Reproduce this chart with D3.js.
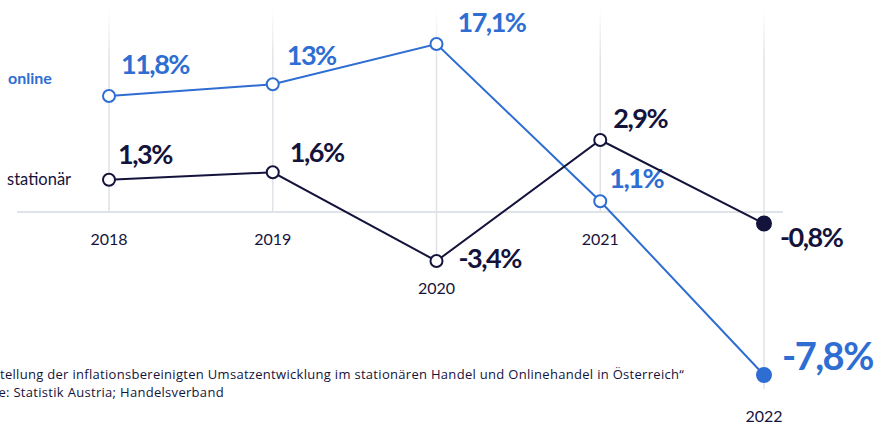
<!DOCTYPE html>
<html>
<head>
<meta charset="utf-8">
<script src="https://cdn.jsdelivr.net/npm/d3@7"></script>
<style>
  body { margin: 0; background: #fff; }
  svg { display: block; }
</style>
</head>
<body>
<div id="chart"></div>
<script>
// ------------------------------------------------------------
// Umsatzentwicklung online vs. stationär, 2018–2022 (in %)
// ------------------------------------------------------------

const years = ['2018', '2019', '2020', '2021', '2022'];
const onlineValues = [11.8, 13, 17.1, 1.1, -7.8];
const stationaerValues = [1.3, 1.6, -3.4, 2.9, -0.8];
const seriesNames = ['online', 'stationär'];
const sourceLines = [
  '„Darstellung der inflationsbereinigten Umsatzentwicklung im stationären Handel und Onlinehandel in Österreich“',
  'Quelle: Statistik Austria; Handelsverband'
];

const W = 882, H = 424;
const blue = '#2e6dd2';
const navy = '#14133b';
const grid = '#dfe2e7';
const baseY = 212;

// label placement next to each point (dx, dy)
const onlineLabelOffsets = [[12, -22], [14, -19], [21, -12], [9, -13], [18, -5]];
const stationaerLabelOffsets = [[9, -16], [17, -10], [22, 7], [13, -12], [16, 23]];

const loc = d3.formatLocale({ decimal: ',', thousands: '.', grouping: [3], currency: ['', '€'], minus: '-' });
const fmt = v => loc.format('.1~f')(v) + '%';

const svg = d3.select('#chart').append('svg')
  .attr('width', W).attr('height', H);

const defs = svg.append('defs');
const grad = defs.append('linearGradient')
  .attr('id', 'gridFade').attr('gradientUnits', 'userSpaceOnUse')
  .attr('x1', 0).attr('x2', 0).attr('y1', 8).attr('y2', 60);
grad.append('stop').attr('offset', 0).attr('stop-color', grid).attr('stop-opacity', 0);
grad.append('stop').attr('offset', 1).attr('stop-color', grid).attr('stop-opacity', 1);

const x = d3.scalePoint().domain(years).range([109, 764]);

// each series drawn on its own diverging scale around the shared zero line
const yOnline = d3.scaleLinear()
  .domain([d3.min(onlineValues), 0, d3.max(onlineValues)])
  .range([375, baseY, 44]);
const yStat = d3.scaleLinear()
  .domain([d3.min(stationaerValues), 0, d3.max(stationaerValues)])
  .range([261, baseY, 140]);

// vertical grid lines
const lowest = years.map((yr, i) => Math.max(baseY, yOnline(onlineValues[i]), yStat(stationaerValues[i])));
const gridBottom = lowest.map((v, i) => i === years.length - 1 ? v + 14 : v);

svg.append('g').selectAll('line')
  .data(years)
  .join('line')
  .attr('x1', d => x(d)).attr('x2', d => x(d))
  .attr('y1', 8)
  .attr('y2', (d, i) => gridBottom[i])
  .attr('stroke', 'url(#gridFade)')
  .attr('stroke-width', 1.5);

// zero line
svg.append('line')
  .attr('x1', 17).attr('x2', 783)
  .attr('y1', baseY).attr('y2', baseY)
  .attr('stroke', grid).attr('stroke-width', 2);

// year labels
svg.append('g').selectAll('text')
  .data(years)
  .join('text')
  .attr('x', d => x(d))
  .attr('y', (d, i) => gridBottom[i] + 33)
  .attr('text-anchor', 'middle')
  .style('font-family', 'Lato, sans-serif').style('font-size', '16px').style('fill', navy)
  .text(d => d);

function drawSeries(values, y, color, offsets, cls) {
  const line = d3.line().x((d, i) => x(years[i])).y(d => y(d));
  const g = svg.append('g').attr('class', cls);

  g.append('path')
    .datum(values)
    .attr('d', line)
    .attr('fill', 'none')
    .attr('stroke', color)
    .attr('stroke-width', 2);

  const last = values.length - 1;
  g.selectAll('circle')
    .data(values)
    .join('circle')
    .attr('cx', (d, i) => x(years[i]))
    .attr('cy', d => y(d))
    .attr('r', (d, i) => i === last ? 7 : 6)
    .attr('fill', (d, i) => i === last ? color : '#fff')
    .attr('stroke', color)
    .attr('stroke-width', 2);

  g.selectAll('text')
    .data(values)
    .join('text')
    .attr('x', (d, i) => x(years[i]) + offsets[i][0])
    .attr('y', (d, i) => y(d) + offsets[i][1])
    .style('font-family', 'Lato, sans-serif')
    .style('font-weight', 700)
    .style('font-size', (d, i) => (cls === 'online' && i === last) ? '38px' : '27px')
    .style('letter-spacing', '-1.5px')
    .style('fill', color)
    .text(fmt);
}

drawSeries(onlineValues, yOnline, blue, onlineLabelOffsets, 'online');
drawSeries(stationaerValues, yStat, navy, stationaerLabelOffsets, 'stationaer');

// series names on the left
svg.append('text')
  .attr('x', 8).attr('y', yOnline(onlineValues[0]) - 12)
  .style('font-family', 'Lato, sans-serif').style('font-weight', 700)
  .style('font-size', '16px').style('fill', blue)
  .text(seriesNames[0]);

svg.append('text')
  .attr('x', 7).attr('y', yStat(stationaerValues[0]) + 5)
  .style('font-family', 'Lato, sans-serif')
  .style('font-size', '16.5px').style('fill', navy)
  .text(seriesNames[1]);

// source note (cut off at the left edge, as in the original layout)
svg.append('g').selectAll('text')
  .data(sourceLines)
  .join('text')
  .attr('x', -35)
  .attr('y', (d, i) => 379 + i * 18)
  .style('font-family', '"Open Sans", sans-serif').style('font-size', '13px')
  .style('letter-spacing', '0.3px').style('fill', navy)
  .text(d => d);
</script>
</body>
</html>
